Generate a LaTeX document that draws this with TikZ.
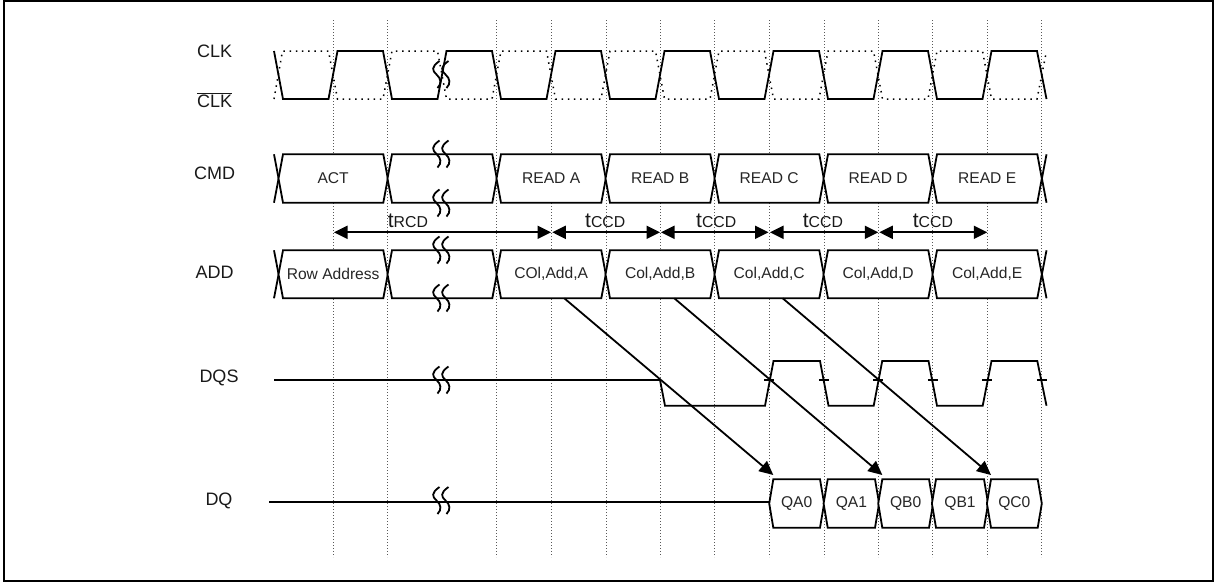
\documentclass[tikz,border=0pt]{standalone}
\usepackage{fontspec}
\setmainfont{Liberation Sans}
\usetikzlibrary{arrows.meta}
\tikzset{
  sig/.style={line width=1.8pt,line join=miter,black},
  bus/.style={sig,fill=white},
  clkbar/.style={line width=1.5pt,dash pattern=on 1.5pt off 4.7pt,black},
  grid/.style={line width=0.8pt,dash pattern=on 1pt off 2pt,black!65},
  lab/.style={inner sep=0pt,font=\fontsize{18}{18}\selectfont,text=black!90},
  val/.style={inner sep=0pt,font=\fontsize{15.6}{16}\selectfont,text=black!85},
  tim/.style={inner sep=0pt,anchor=base west,text=black!90},
  span/.style={line width=1.8pt,{Triangle[length=13.5pt,width=13pt]}-{Triangle[length=13.5pt,width=13pt]}},
  dep/.style={line width=1.8pt,-{Triangle[length=14pt,width=13pt]}},
  frame/.style={line width=2.4pt,black}
}
\newcommand{\brk}[2]{%
  \foreach \dd in {0,9}{
    \draw[line width=1.8pt,black] (#1-2.5+\dd,#2-13.5) .. controls (#1-11+\dd,#2-7.5) and (#1-10+\dd,#2-4) .. (#1-5.5+\dd,#2) .. controls (#1-1+\dd,#2+4) and (#1+0+\dd,#2+9) .. (#1-4.5+\dd,#2+13.5);
  }}
\newcommand{\hexbox}[7]{% name, x0, x1, top, bot, tip, text
  \pgfmathsetmacro{\midy}{(#4+#5)/2}
  \draw[bus] (#2,#4) -- (#3,#4) -- (#3+#6,\midy) -- (#3,#5) -- (#2,#5) -- (#2-#6,\midy) -- cycle;
  \node[val] (#1) at ({(#2+#3)/2},\midy) {#7};}
\begin{document}
\begin{tikzpicture}[x=1pt,y=-1pt]
\useasboundingbox (0,0) rectangle (1214,582);
\fill[white] (0,0) rectangle (1214,582);
\draw[frame] (4,1) rectangle (1213,581);

% timing grid
\foreach \gx in {333,387.7,496.7,551.5,606,660,714.7,769.5,824,878.2,932.7,987.2,1041.8}{
  \draw[grid] (\gx,20) -- (\gx,557);
}

% signal names
\node[lab] (nclk) at (214.7,51) {CLK};
\node[lab,anchor=base] (nclkb) at (214.7,107.5) {$\overline{\mbox{CLK}}$};
\node[lab] (ncmd) at (214.7,173) {CMD};
\node[lab] (nadd) at (214.7,272) {ADD};
\node[lab] (ndqs) at (219,378) {DQS};
\node[lab] (ndq) at (219,501) {DQ};

% CLK and its complement
\draw[clkbar] (274,99) -- (282.5,51) -- (328.5,51) -- (337.5,99) -- (383,99) -- (392,51)
  -- (437.5,51) -- (446.5,99) -- (492,99) -- (501,51) -- (546.5,51) -- (555.5,99) -- (601,99) -- (610,51)
  -- (655.5,51) -- (664.5,99) -- (710,99) -- (719,51) -- (764.5,51) -- (773.5,99) -- (819,99) -- (828,51)
  -- (873.5,51) -- (882.5,99) -- (928,99) -- (937,51) -- (982.5,51) -- (991.5,99) -- (1037,99) -- (1046.5,51);
\draw[sig] (274,51) -- (283,99) -- (328.5,99) -- (337.5,51) -- (383,51) -- (392,99)
  -- (437.5,99) -- (446.5,51) -- (492,51) -- (501,99) -- (546.5,99) -- (555.5,51) -- (601,51) -- (610,99)
  -- (655.5,99) -- (664.5,51) -- (710,51) -- (719,99) -- (764.5,99) -- (773.5,51) -- (819,51) -- (828,99)
  -- (873.5,99) -- (882.5,51) -- (928,51) -- (937,99) -- (982.5,99) -- (991.5,51) -- (1037,51) -- (1046.5,99);

% CMD bus
\draw[sig] (274,154.3) -- (278.6,178.5) -- (274,202.7);
\draw[sig] (1046.5,154.3) -- (1041.9,178.5) -- (1046.5,202.7);
\hexbox{c1}{283}{383.3}{154.3}{202.7}{4.5}{ACT}
\hexbox{c2}{392}{492.3}{154.3}{202.7}{4.5}{}
\hexbox{c3}{501}{601.3}{154.3}{202.7}{4.5}{READ A}
\hexbox{c4}{610}{710.3}{154.3}{202.7}{4.5}{READ B}
\hexbox{c5}{719}{819.3}{154.3}{202.7}{4.5}{READ C}
\hexbox{c6}{828}{928.3}{154.3}{202.7}{4.5}{READ D}
\hexbox{c7}{937}{1037.3}{154.3}{202.7}{4.5}{READ E}

% ADD bus
\draw[sig] (274,250.3) -- (278.6,274.3) -- (274,298.3);
\draw[sig] (1046.5,250.3) -- (1041.9,274.3) -- (1046.5,298.3);
\hexbox{a1}{283}{383.3}{250.3}{298.3}{4.5}{Row Address}
\hexbox{a2}{392}{492.3}{250.3}{298.3}{4.5}{}
\hexbox{a3}{501}{601.3}{250.3}{298.3}{4.5}{COl,Add,A}
\hexbox{a4}{610}{710.3}{250.3}{298.3}{4.5}{Col,Add,B}
\hexbox{a5}{719}{819.3}{250.3}{298.3}{4.5}{Col,Add,C}
\hexbox{a6}{828}{928.3}{250.3}{298.3}{4.5}{Col,Add,D}
\hexbox{a7}{937}{1037.3}{250.3}{298.3}{4.5}{Col,Add,E}

% DQS
\draw[sig] (274,380) -- (660,380) -- (665,405.7) -- (765,405.7) -- (773.5,361) -- (820,361) -- (828.5,405.7)
  -- (873.7,405.7) -- (882.2,361) -- (928.5,361) -- (937,405.7) -- (982.7,405.7) -- (991.5,361) -- (1037.3,361) -- (1046.5,405.7);
\foreach \tx in {769,823.8,878,932.8,987,1041.8}{
  \draw[sig] (\tx-5,380) -- (\tx+5,380);
}

% DQ
\draw[sig] (269,502) -- (769.3,502);
\hexbox{q1}{773.3}{820}{479.3}{527.7}{4.1}{QA0}
\hexbox{q2}{827.7}{875}{479.3}{527.7}{4.1}{QA1}
\hexbox{q3}{882.3}{929}{479.3}{527.7}{4.1}{QB0}
\hexbox{q4}{936}{984}{479.3}{527.7}{4.1}{QB1}
\hexbox{q5}{991}{1037.7}{479.3}{527.7}{4.1}{QC0}

% pauses in the time axis
\brk{442}{74.5}
\brk{442}{154}
\brk{442}{203}
\brk{442}{250}
\brk{442}{298}
\brk{442}{380}
\brk{442}{500.5}

% timing spans
\coordinate (s0) at (334,232.3);
\coordinate (s1) at (551,232.3);
\coordinate (s1b) at (552.3,232.3);
\coordinate (s2) at (660,232.3);
\coordinate (s2b) at (661,232.3);
\coordinate (s3) at (768.5,232.3);
\coordinate (s3b) at (770,232.3);
\coordinate (s4) at (878.3,232.3);
\coordinate (s4b) at (879.3,232.3);
\coordinate (s5) at (987.3,232.3);
\draw[span] (s0) -- (s1);
\draw[span] (s1b) -- (s2);
\draw[span] (s2b) -- (s3);
\draw[span] (s3b) -- (s4);
\draw[span] (s4b) -- (s5);
\node[tim] (trcd) at (387.7,227.7) {\fontsize{21}{21}\selectfont t\fontsize{15.8}{16}\selectfont RCD};
\node[tim] (t1) at (585,227.7) {\fontsize{21}{21}\selectfont t\fontsize{15.8}{16}\selectfont CCD};
\node[tim] (t2) at (696,227.7) {\fontsize{21}{21}\selectfont t\fontsize{15.8}{16}\selectfont CCD};
\node[tim] (t3) at (802.7,227.7) {\fontsize{21}{21}\selectfont t\fontsize{15.8}{16}\selectfont CCD};
\node[tim] (t4) at (912.7,227.7) {\fontsize{21}{21}\selectfont t\fontsize{15.8}{16}\selectfont CCD};

% address to data
\coordinate (d1) at (564.3,298.3);
\coordinate (d2) at (674.3,298.3);
\coordinate (d3) at (782.7,298.3);
\coordinate (e1) at (773.3,475);
\coordinate (e2) at (882.3,475);
\coordinate (e3) at (991,475);
\draw[dep] (d1) -- (e1);
\draw[dep] (d2) -- (e2);
\draw[dep] (d3) -- (e3);
\end{tikzpicture}
\end{document}
